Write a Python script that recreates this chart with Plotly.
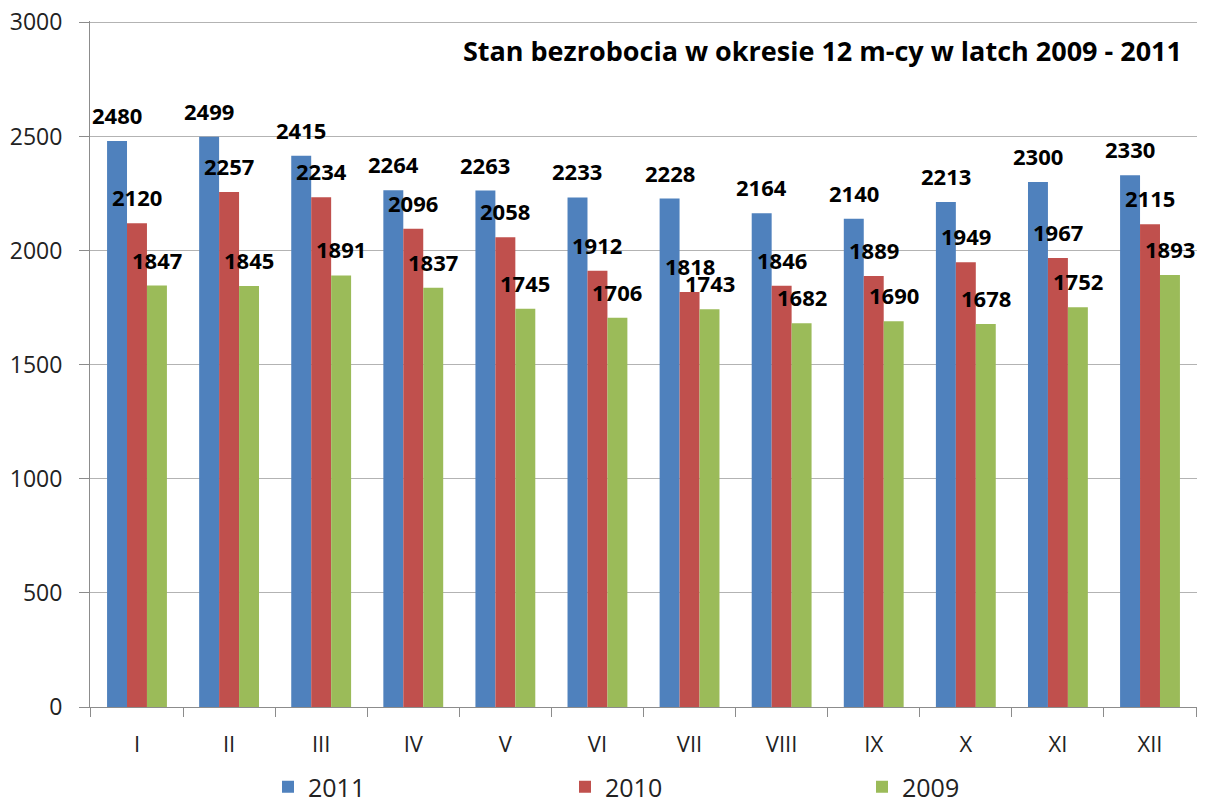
import plotly.graph_objects as go

months = ["I", "II", "III", "IV", "V", "VI", "VII", "VIII", "IX", "X", "XI", "XII"]
v2011 = [2480, 2499, 2415, 2264, 2263, 2233, 2228, 2164, 2140, 2213, 2300, 2330]
v2010 = [2120, 2257, 2234, 2096, 2058, 1912, 1818, 1846, 1889, 1949, 1967, 2115]
v2009 = [1847, 1845, 1891, 1837, 1745, 1706, 1743, 1682, 1690, 1678, 1752, 1893]
series = [("2011", v2011, "#4F81BD"), ("2010", v2010, "#C0504D"), ("2009", v2009, "#9BBB59")]
y_ticks = [0, 500, 1000, 1500, 2000, 2500, 3000]
title = "Stan bezrobocia w okresie 12 m-cy w latch 2009 - 2011"

FONT = "Open Sans"
OFF = 8  # default page body margin
W, H = 1206 - OFF, 800 - OFF
ML, MR, MT, MB = 90 - OFF, 9, 21 - OFF, 93
BARGAP = 0.35
plot_w = W - ML - MR
plot_h = H - MT - MB
bar_w = plot_w / len(months) * (1 - BARGAP) / len(series)

fig = go.Figure()
annotations = []
for k, (name, vals, col) in enumerate(series):
    fig.add_trace(go.Bar(x=months, y=vals, name=name, marker_color=col,
                         marker_line=dict(width=0)))
    for m, v in zip(months, vals):
        annotations.append(dict(
            x=m, y=v, xref="x", yref="y", text=f"<b>{v}</b>", showarrow=False,
            xshift=(k - 1) * bar_w, yshift=26, yanchor="middle", xanchor="center",
            font=dict(family=FONT, size=22, color="black"),
        ))

fig.update_layout(
    width=W, height=H,
    margin=dict(l=ML, r=MR, t=MT, b=MB, autoexpand=False),
    paper_bgcolor="white", plot_bgcolor="white",
    barmode="group", bargap=BARGAP, bargroupgap=0,
    font=dict(family=FONT, color="#222"),
    title=dict(text=f"<b>{title}</b>", x=(1182 - OFF)/W, xanchor="right",
               y=1-(52 - OFF)/H, yanchor="middle", font=dict(family=FONT, size=27, color="black")),
    legend=dict(orientation="h", x=(268 - 90)/plot_w, xanchor="left", y=-80/plot_h, yanchor="middle",
                entrywidth=252, entrywidthmode="pixels", font=dict(size=25, family=FONT, color="#222"),
                itemwidth=30, traceorder="normal"),
    annotations=annotations,
    showlegend=True,
)
fig.update_xaxes(showline=True, linecolor="#8c8c8c", linewidth=1, ticks="outside", tickson="boundaries",
                 ticklen=9, tickcolor="#8c8c8c", tickfont=dict(size=22, family=FONT, color="#222"),
                 showgrid=False, ticklabelstandoff=18, automargin=False)
fig.update_yaxes(range=[0, 3006], tickvals=y_ticks,
                 showline=True, linecolor="#8c8c8c", linewidth=1,
                 ticks="outside", ticklen=10, tickcolor="#8c8c8c", showgrid=True, gridcolor="#b3b3b3",
                 gridwidth=1, zeroline=False, tickfont=dict(size=23, family=FONT, color="#222"),
                 ticklabelstandoff=12, automargin=False, ticklabeloverflow="allow")
fig.write_html("out.html")
